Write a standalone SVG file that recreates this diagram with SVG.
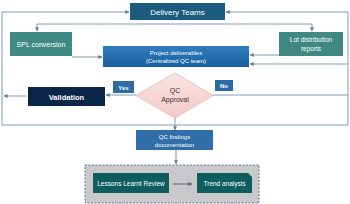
<svg xmlns="http://www.w3.org/2000/svg" width="350" height="204" viewBox="0 0 350 204">
<defs>
<style>
.t{font-family:"Liberation Sans",Arial,sans-serif;fill:#fff;text-anchor:middle}
.c{fill:none;stroke:#7f9db3;stroke-width:1}
.teal{fill:#3f8884}
.dk{fill:#0d5d5c}
</style>
<marker id="a" viewBox="0 0 6 6" refX="5.5" refY="3" markerWidth="4" markerHeight="4" orient="auto"><path d="M0,0L6,3L0,6z" fill="#5f7f96"/></marker>
<marker id="g" viewBox="0 0 6 6" refX="5.5" refY="3" markerWidth="4" markerHeight="4" orient="auto"><path d="M0,0L6,3L0,6z" fill="#5f6e7a"/></marker>
<linearGradient id="pb" x1="0" y1="0" x2="0" y2="1"><stop offset="0" stop-color="#2f7dc0"/><stop offset="1" stop-color="#1a5f9e"/></linearGradient>
<linearGradient id="pk" x1="0" y1="0" x2="0" y2="1"><stop offset="0" stop-color="#fbe4e4"/><stop offset="1" stop-color="#f3c9c9"/></linearGradient>
</defs>
<rect width="350" height="204" fill="#fff"/>
<g id="group"><rect x="85" y="165" width="174" height="38" fill="#c9c9cb" stroke="#5b7a92" stroke-width="1" stroke-dasharray="2,1.5"/></g>
<g id="connectors">
<path class="c" d="M2,97V12H129" marker-end="url(#a)"/>
<path class="c" d="M2,97V125H348V12H226" marker-end="url(#a)"/>
<path class="c" d="M348,64H250" marker-end="url(#a)"/>
<path class="c" d="M213,95H348"/>
<path class="c" d="M27,96H4" marker-end="url(#a)"/>
<path class="c" d="M136,95H106" marker-end="url(#a)"/>
<path class="c" d="M37,24H312V31" marker-end="url(#a)"/>
<path class="c" d="M37,24V31" marker-end="url(#a)"/>
<path class="c" d="M72,57H102" marker-end="url(#a)"/>
<path class="c" d="M279,55H250" marker-end="url(#a)"/>
<path class="c" d="M175,118V130" marker-end="url(#a)"/>
<path class="c" d="M176,150V164" marker-end="url(#a)"/>
<path d="M173,184H192" stroke="#5f6e7a" stroke-width="1.1" fill="none" marker-end="url(#g)"/>
</g>
<g id="delivery"><rect x="130" y="3" width="95" height="17" fill="#1b5c7e"/><text class="t" x="177.5" y="14.5" font-size="8">Delivery Teams</text></g>
<g id="spl"><rect class="teal" x="10" y="32" width="62" height="24"/><text class="t" x="41" y="47" font-size="7">SPL conversion</text></g>
<g id="lot"><rect class="teal" x="279" y="32" width="64" height="24"/><text class="t" x="311" y="42" font-size="6.5">Lot distribution</text><text class="t" x="311" y="50.5" font-size="6.5">reports</text></g>
<g id="project"><rect x="103" y="46" width="146" height="21" fill="url(#pb)"/><text class="t" x="176" y="55" font-size="6">Project deliverables</text><text class="t" x="176" y="63" font-size="6">(Centralized QC team)</text></g>
<g id="approval"><path d="M175,73L213,95.5L175,118L136,95.5Z" fill="url(#pk)" stroke="#e2b4b4" stroke-width="0.8"/><text x="175" y="93" font-size="7" text-anchor="middle" font-family="Liberation Sans,Arial,sans-serif" fill="#333">QC</text><text x="175" y="101.5" font-size="7" text-anchor="middle" font-family="Liberation Sans,Arial,sans-serif" fill="#333">Approval</text></g>
<g id="yes"><rect x="113" y="81" width="21" height="12" fill="#2e6aa6"/><text class="t" x="123.5" y="89.5" font-size="6" font-weight="bold">Yes</text></g>
<g id="no"><rect x="215" y="80" width="18" height="11" fill="#2e6aa6"/><text class="t" x="224" y="88" font-size="6" font-weight="bold">No</text></g>
<g id="validation"><rect x="28" y="87" width="77" height="19" fill="#0b2548"/><text class="t" x="66.5" y="99.5" font-size="7.5" font-weight="bold">Validation</text></g>
<g id="findings"><rect x="136" y="130" width="77" height="20" fill="#2f6ea8"/><text class="t" x="174.5" y="138.5" font-size="6">QC findings</text><text class="t" x="174.5" y="146.5" font-size="6">documentation</text></g>
<g id="lessons"><rect class="dk" x="93" y="173" width="76" height="20"/><text class="t" x="131" y="185.5" font-size="6.5">Lessons Learnt  Review</text></g>
<g id="trend"><path class="dk" d="M197,173H248L252,177V193H197Z"/><text class="t" x="224.5" y="185.5" font-size="6.5">Trend analysis</text></g>
</svg>
